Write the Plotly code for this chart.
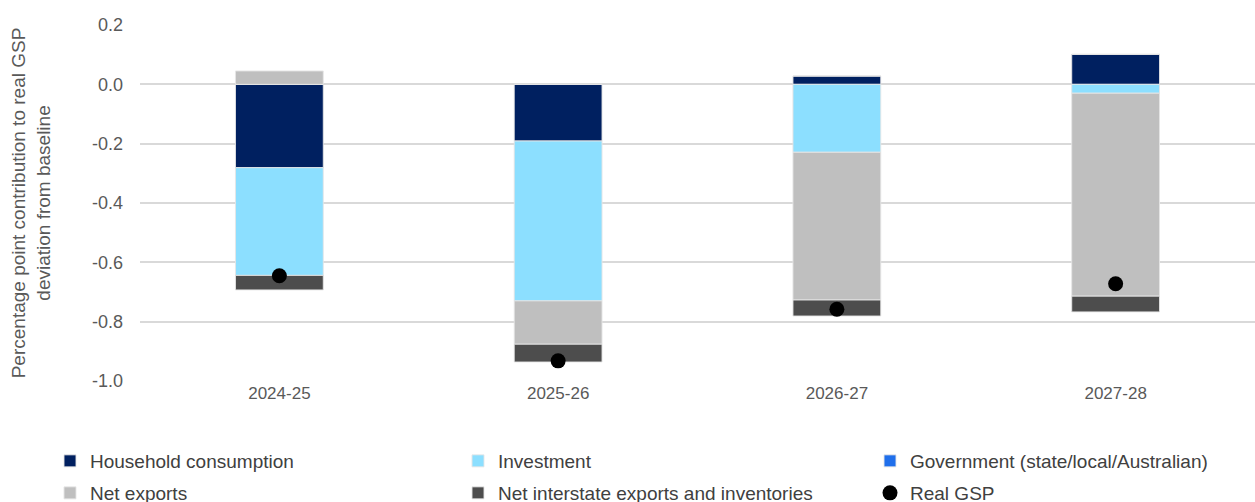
import plotly.graph_objects as go

years = ["2024-25", "2025-26", "2026-27", "2027-28"]
household = [-0.281, -0.191, 0.028, 0.101]
investment = [-0.363, -0.539, -0.229, -0.030]
government = [0.0, 0.0, 0.0, 0.0]
net_exports = [0.045, -0.146, -0.498, -0.684]
net_interstate = [-0.049, -0.060, -0.054, -0.053]
real_gsp = [-0.645, -0.932, -0.758, -0.672]
y_ticks = [0.2, 0.0, -0.2, -0.4, -0.6, -0.8, -1.0]
y_tick_labels = ["0.2", "0.0", "-0.2", "-0.4", "-0.6", "-0.8", "-1.0"]

FONT = "Liberation Sans"
fig = go.Figure()
bar_line = dict(color="rgba(230,230,230,0.9)", width=1)
fig.add_trace(go.Bar(x=years, y=household, name="Household consumption",
                     marker=dict(color="#002060", line=bar_line), legend="legend", showlegend=True))
fig.add_trace(go.Bar(x=years, y=investment, name="Investment",
                     marker=dict(color="#8CDFFF", line=bar_line), legend="legend2", showlegend=True))
fig.add_trace(go.Bar(x=years, y=government, name="Government (state/local/Australian)",
                     marker=dict(color="#1F6FEB", line=bar_line), legend="legend3", showlegend=True))
fig.add_trace(go.Bar(x=years, y=net_exports, name="Net exports",
                     marker=dict(color="#BFBFBF", line=bar_line), legend="legend4", showlegend=True))
fig.add_trace(go.Bar(x=years, y=net_interstate, name="Net interstate exports and inventories",
                     marker=dict(color="#4D4D4D", line=bar_line), legend="legend5", showlegend=True))
fig.add_trace(go.Scatter(x=years, y=real_gsp, name="Real GSP", mode="markers",
                         marker=dict(color="black", size=15), legend="legend6", showlegend=True))


def leg(xpix, ypix):
    return dict(orientation="h", xref="container", yref="container",
                x=xpix / 1255, y=1 - ypix / 502, xanchor="left", yanchor="middle",
                font=dict(family=FONT, size=19, color="#404040"),
                itemwidth=30, bgcolor="rgba(0,0,0,0)", visible=True)


fig.update_layout(
    width=1255, height=502,
    margin=dict(l=140, r=0, t=25, b=121),
    paper_bgcolor="white", plot_bgcolor="white",
    barmode="relative", bargap=0.685, showlegend=True,
    font=dict(family=FONT, size=16, color="#595959"),
    legend=leg(50, 461), legend2=leg(458, 461), legend3=leg(870, 461),
    legend4=leg(50, 493), legend5=leg(458, 493), legend6=leg(870, 493),
    xaxis=dict(showline=False, ticks="", tickfont=dict(size=17, color="#595959")),
    yaxis=dict(range=[-1.0, 0.2], tickvals=y_ticks, ticktext=y_tick_labels,
               showgrid=True, gridcolor="#D9D9D9", gridwidth=1.5,
               zeroline=False, showline=False, ticks="", ticklabelstandoff=16,
               tickfont=dict(size=18, color="#595959"),
               title=dict(text="Percentage point contribution to real GSP<br>deviation from baseline",
                          font=dict(size=19, color="#595959"), standoff=36)),
)

fig.write_html("out.html")
